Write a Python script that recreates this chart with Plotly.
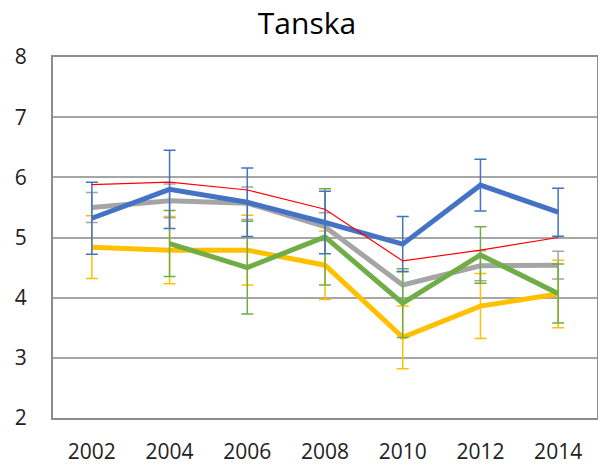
import plotly.graph_objects as go

years = ["2002", "2004", "2006", "2008", "2010", "2012", "2014"]

blue = [5.32, 5.80, 5.585, 5.25, 4.89, 5.87, 5.42]
blue_err = [0.60, 0.65, 0.57, 0.52, 0.46, 0.43, 0.40]

red = [5.88, 5.92, 5.79, 5.47, 4.61, 4.79, 5.00]

gray = [5.50, 5.61, 5.57, 5.18, 4.21, 4.53, 4.54]
gray_err = [0.25, 0.28, 0.27, 0.23, 0.23, 0.25, 0.23]

green = [None, 4.90, 4.50, 5.01, 3.91, 4.71, 4.07]
green_err = [None, 0.55, 0.77, 0.80, 0.57, 0.47, 0.49]

yellow = [4.84, 4.79, 4.79, 4.54, 3.34, 3.86, 4.06]
yellow_err = [0.52, 0.56, 0.58, 0.57, 0.52, 0.54, 0.56]

fig = go.Figure()

def add(y, err, color, width):
    kw = {}
    if err is not None:
        kw["error_y"] = dict(type="data", array=err, visible=True,
                             color=color, thickness=1.5, width=6)
    fig.add_trace(go.Scatter(x=years, y=y, mode="lines",
                             line=dict(color=color, width=width),
                             connectgaps=False, **kw))

add(yellow, yellow_err, "#FFC000", 5)
add(gray, gray_err, "#A5A5A5", 5)
add(green, green_err, "#70AD47", 5)
add(blue, blue_err, "#4472C4", 5)
add(red, None, "#FF0000", 1.2)

font = "Open Sans"
fig.update_layout(
    width=598, height=458,
    margin=dict(l=45, r=9, t=49, b=48, autoexpand=False),
    paper_bgcolor="white", plot_bgcolor="white",
    showlegend=False,
    title=dict(text="Tanska", x=0.5, xanchor="center", y=0.99, yanchor="top",
               font=dict(family=font, size=30, color="black")),
    font=dict(family=font, size=21, color="#222222"),
)
fig.update_xaxes(type="category", range=[-0.5, 6.5], showgrid=False,
                 showline=True, linecolor="#8C8C8C", linewidth=2, mirror=True,
                 ticks="", ticklabelstandoff=14, automargin=False,
                 tickfont=dict(family=font, size=21, color="#222222"))
fig.update_yaxes(range=[2, 8], dtick=1, showgrid=True, gridcolor="#A6A6A6",
                 gridwidth=1.5, showline=True, linecolor="#8C8C8C", linewidth=2,
                 mirror=True, ticks="", ticklabelstandoff=20, zeroline=False,
                 automargin=False,
                 tickfont=dict(family=font, size=21, color="#222222"))

fig.write_html("out.html")
